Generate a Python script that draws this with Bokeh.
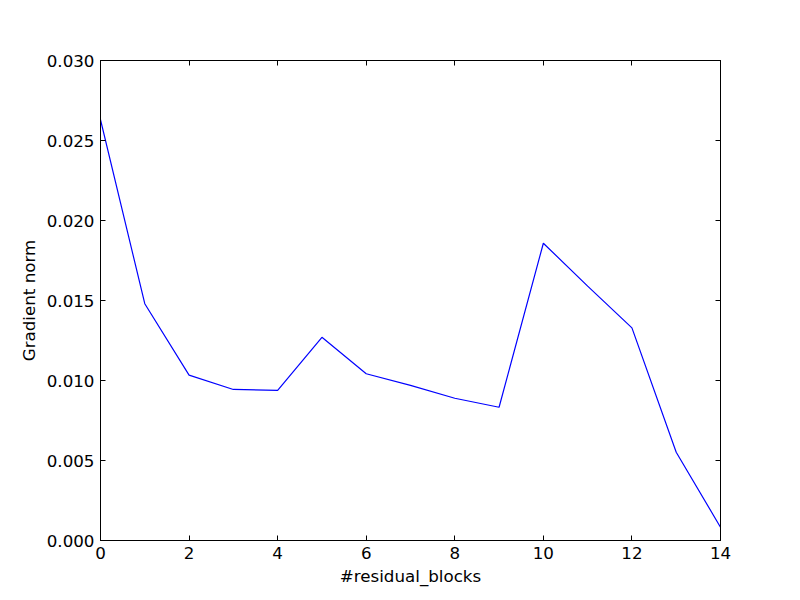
from bokeh.plotting import figure
from bokeh.models import LinearAxis, FixedTicker, PrintfTickFormatter, Range1d, CustomJSTickFormatter
from bokeh.embed import file_html
from bokeh.resources import INLINE

blocks = list(range(15))
grad_norm = [0.0263, 0.0148, 0.01034, 0.00944, 0.00938, 0.0127, 0.01042,
             0.0097, 0.00889, 0.00833, 0.01858, 0.0159, 0.01329, 0.00552, 0.00083]
x_ticks = [0, 2, 4, 6, 8, 10, 12, 14]
y_ticks = [0.0, 0.005, 0.010, 0.015, 0.020, 0.025, 0.030]

W, H = 800, 600
p = figure(width=W, height=H, output_backend="svg", toolbar_location=None,
           x_range=Range1d(0, 14), y_range=Range1d(0, 0.030),
           min_border_left=100, min_border_right=80, min_border_top=60, min_border_bottom=60,
           x_axis_label="#residual_blocks", y_axis_label="Gradient norm")
p.line(blocks, grad_norm, line_color="#0000ff", line_width=1.2)

p.grid.visible = False
p.outline_line_color = "black"
p.outline_line_width = 1
p.background_fill_color = "white"
p.border_fill_color = "white"

font = "DejaVu Sans"
for ax in p.xaxis:
    ax.ticker = FixedTicker(ticks=x_ticks)
    ax.axis_label_standoff = 4
for ax in p.yaxis:
    ax.ticker = FixedTicker(ticks=y_ticks)
    ax.formatter = PrintfTickFormatter(format="%.3f")
    ax.axis_label_standoff = 5

for ax in list(p.xaxis) + list(p.yaxis):
    ax.major_tick_in = 5
    ax.major_tick_out = 0
    ax.minor_tick_in = 0
    ax.minor_tick_out = 0
    ax.axis_line_color = "black"
    ax.major_tick_line_color = "black"
    ax.major_label_text_font = font
    ax.major_label_text_font_size = "16.7px"
    ax.major_label_text_color = "black"
    ax.axis_label_text_font = font
    ax.axis_label_text_font_size = "16.7px"
    ax.axis_label_text_font_style = "normal"
    ax.axis_label_text_color = "black"
    ax.major_label_standoff = 6

for loc, ticks in (("right", y_ticks), ("above", x_ticks)):
    a = LinearAxis(ticker=FixedTicker(ticks=ticks),
                   formatter=CustomJSTickFormatter(code="return ''"),
                   major_tick_in=5, major_tick_out=0, minor_tick_in=0, minor_tick_out=0,
                   axis_line_color="black", major_label_standoff=0)
    p.add_layout(a, loc)

open("out.html", "w").write(file_html(p, INLINE))
